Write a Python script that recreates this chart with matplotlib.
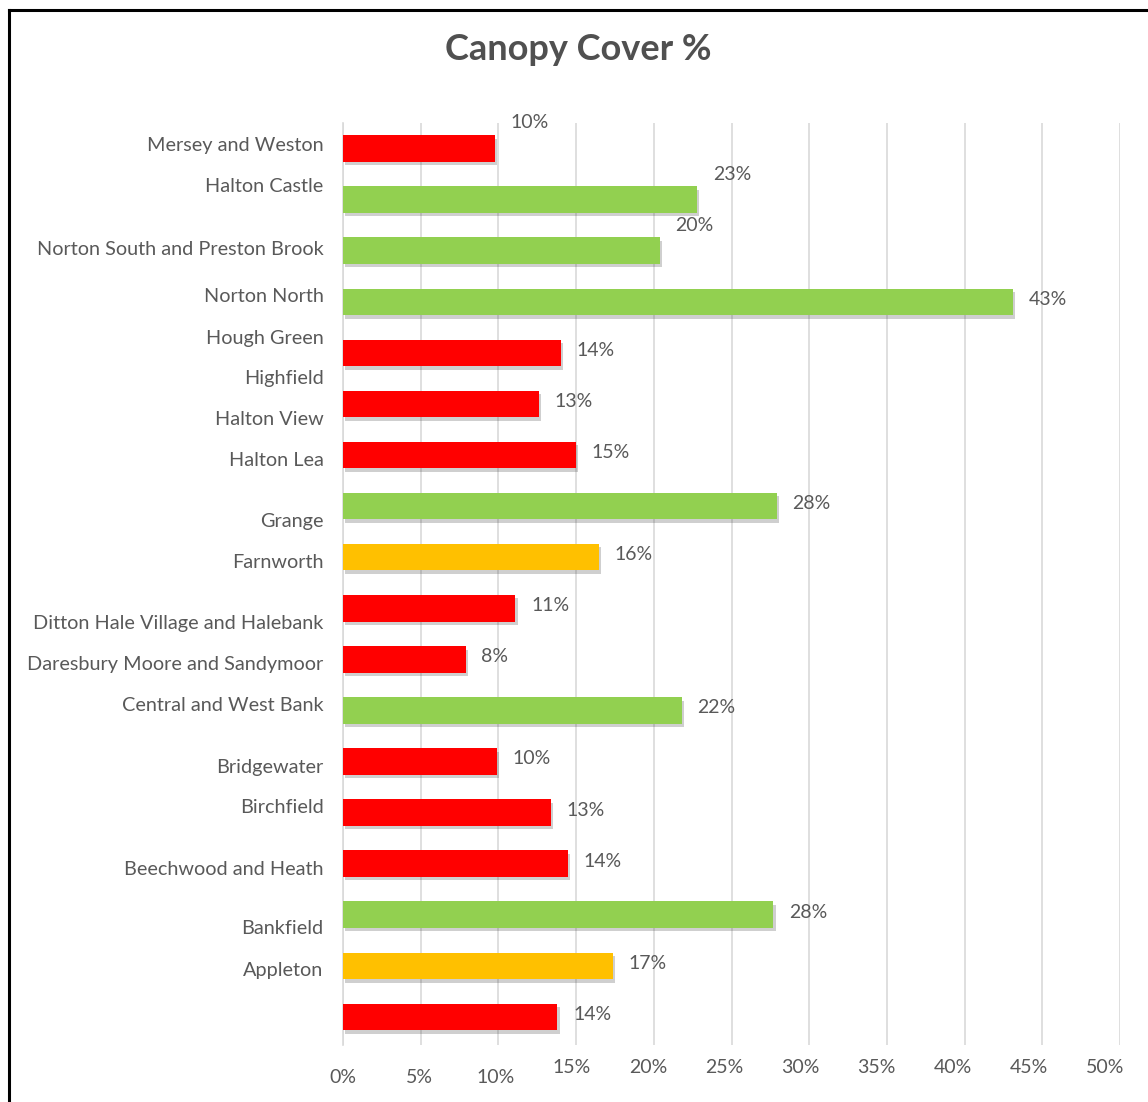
import matplotlib
matplotlib.use("Agg")
import matplotlib.pyplot as plt
from matplotlib.lines import Line2D
import matplotlib.patheffects as pe

# ---------------- data ----------------
categories = ["Mersey and Weston", "Halton Castle", "Norton South and Preston Brook",
              "Norton North", "Hough Green", "Highfield", "Halton View", "Halton Lea",
              "Grange", "Farnworth", "Ditton Hale Village and Halebank",
              "Daresbury Moore and Sandymoor", "Central and West Bank", "Bridgewater",
              "Birchfield", "Beechwood and Heath", "Bankfield", "Appleton"]
values = [9.8, 22.8, 20.4, 43.1, 14.0, 12.6, 15.0, 27.9, 16.5, 11.1, 7.9, 21.8,
          9.9, 13.4, 14.5, 27.7, 17.4, 13.8]
value_labels = ["10%", "23%", "20%", "43%", "14%", "13%", "15%", "28%", "16%", "11%",
                "8%", "22%", "10%", "13%", "14%", "28%", "17%", "14%"]
bar_colors = ["#FF0000", "#92D050", "#92D050", "#92D050", "#FF0000", "#FF0000",
              "#FF0000", "#92D050", "#FFC000", "#FF0000", "#FF0000", "#92D050",
              "#FF0000", "#FF0000", "#FF0000", "#92D050", "#FFC000", "#FF0000"]
x_ticks = [0, 5, 10, 15, 20, 25, 30, 35, 40, 45, 50]
x_tick_labels = ["0%", "5%", "10%", "15%", "20%", "25%", "30%", "35%", "40%", "45%", "50%"]

# category label vertical positions (as drawn, offset from the bars)
label_pos = [-0.08, 0.72, 1.94, 2.86, 3.68, 4.47, 5.27, 6.07, 7.27, 8.07, 9.26,
             10.07, 10.87, 12.08, 12.87, 14.08, 15.24, 16.06]

TXT = "#595959"
FONT = "Lato"

fig = plt.figure(figsize=(11.48, 11.02), dpi=100)
W, H = 1148, 1102
ax = fig.add_axes([343 / W, 1 - 1045 / H, (1120 - 343) / W, (1045 - 123) / H])

ypos = list(range(len(values)))
bars = ax.barh(ypos, values, height=0.52, color=bar_colors, zorder=3)
for b in bars:
    b.set_path_effects([pe.SimplePatchShadow(offset=(1.5, -2.5), alpha=0.25, shadow_rgbFace="#404040"),
                        pe.Normal()])

ax.set_xlim(0, 50)
ax.set_ylim(17.55, -0.5)

for i, (v, t) in enumerate(zip(values, value_labels)):
    dy = -0.5 if i < 3 else -0.05
    ax.text(v + 1.0, i + dy, t, ha="left", va="center", fontsize=14,
            color=TXT, family=FONT, zorder=4)

ax.set_yticks(label_pos)
ax.set_yticklabels(categories, fontsize=14.3, color=TXT, family=FONT)
ax.tick_params(axis="y", length=0, pad=14)

# x tick labels (drawn slightly compressed relative to the gridlines, as in the image)
ax.set_xticks(x_ticks)
ax.set_xticklabels([])
ax.tick_params(axis="x", length=0)
for k, (tv, tl) in enumerate(zip(x_ticks, x_tick_labels)):
    ypix = 1077 if k < 3 else 1067
    ax.text(tv * 0.981, 17.55 + (ypix - 1045) / 51.06, tl, ha="center", va="center",
            fontsize=14, color=TXT, family=FONT, clip_on=False)

ax.grid(axis="x", color="#D9D9D9", linewidth=1.2, zorder=0)
ax.grid(axis="y", visible=False)
for s in ["top", "right", "bottom"]:
    ax.spines[s].set_visible(False)
ax.spines["left"].set_color("#D9D9D9")
ax.spines["left"].set_linewidth(1.2)

fig.text(578 / W, 1 - 50 / H, "Canopy Cover %", ha="center", va="center",
         fontsize=26, fontweight="bold", color="#505050", family=FONT)

# outer frame (left and top edges visible)
fig.add_artist(Line2D([9 / W, 9 / W], [0, 1 - 10 / H], color="black", lw=2.2,
                      transform=fig.transFigure))
fig.add_artist(Line2D([9 / W, 1], [1 - 10 / H, 1 - 10 / H], color="black", lw=2.2,
                      transform=fig.transFigure))

fig.savefig("out.png", dpi=100)
